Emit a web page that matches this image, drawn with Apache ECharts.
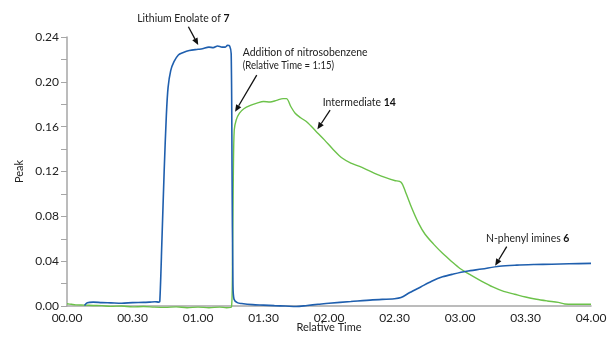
<!DOCTYPE html>
<html>
<head>
<meta charset="utf-8">
<script src="https://cdn.jsdelivr.net/npm/echarts@6/dist/echarts.min.js"></script>
<style>
  html, body { margin: 0; padding: 0; background: #fff; }
  #chart { width: 607px; height: 337px; }
</style>
</head>
<body>
<div id="chart"></div>
<script>
// Relative time in minutes, peak intensity
const enolateTime = [8, 9.3, 12, 16, 20, 25, 30, 35, 38, 40.3, 42, 42.5, 43.5, 44.5, 45.5, 46.3, 47.5, 49, 51, 53, 56, 60, 62, 65, 67, 69, 71, 72.5, 73.5, 74.5, 75.2, 75.6, 76, 76.5, 78, 80, 85, 90, 95, 100, 105, 110, 115, 120, 130, 140, 150, 153, 157, 162, 167, 172, 177, 183, 190, 198, 206, 214, 222, 230, 240];
const enolatePeak = [0.0005, 0.003, 0.0035, 0.003, 0.0028, 0.0025, 0.003, 0.0032, 0.0035, 0.0038, 0.0035, 0.004, 0.06, 0.12, 0.17, 0.195, 0.21, 0.218, 0.224, 0.226, 0.228, 0.229, 0.2295, 0.231, 0.2305, 0.232, 0.231, 0.231, 0.2325, 0.232, 0.225, 0.12, 0.02, 0.006, 0.003, 0.0022, 0.0012, 0.0008, 0.0003, 0, -0.0005, 0.0005, 0.0015, 0.0025, 0.004, 0.0055, 0.0065, 0.0075, 0.012, 0.017, 0.022, 0.026, 0.0285, 0.031, 0.033, 0.0355, 0.0365, 0.037, 0.0373, 0.0377, 0.038];

const intermTime = [0, 2, 4, 8, 12, 16, 20, 25, 30, 35, 40, 45, 50, 55, 60, 65, 70, 73, 75.3, 75.8, 76.2, 76.6, 77.5, 79, 81, 84, 87, 90, 93, 96, 99, 100.5, 102.5, 104.5, 107, 110, 114, 118, 122, 126, 130, 134, 138, 142, 146, 150, 153, 155, 158, 161, 164, 168, 172, 176, 180, 185, 190, 195, 200, 205, 210, 215, 220, 225, 228, 232, 240];
const intermPeak = [0.002, 0.0015, 0.001, 0.0008, 0.0005, 0.0003, -0.0003, 0, -0.0008, -0.0005, -0.001, -0.0012, -0.0008, -0.0015, -0.001, -0.0015, -0.001, -0.0015, -0.001, 0.04, 0.12, 0.157, 0.166, 0.172, 0.176, 0.179, 0.181, 0.1825, 0.182, 0.1835, 0.185, 0.185, 0.178, 0.172, 0.168, 0.164, 0.156, 0.148, 0.1395, 0.132, 0.1275, 0.1245, 0.121, 0.1175, 0.1145, 0.112, 0.1105, 0.102, 0.087, 0.074, 0.064, 0.055, 0.047, 0.04, 0.0335, 0.0275, 0.022, 0.017, 0.013, 0.0105, 0.008, 0.006, 0.0045, 0.0032, 0.0018, 0.0015, 0.0015];

const yTicks = [0, 0.04, 0.08, 0.12, 0.16, 0.20, 0.24];
const xTickMinutes = [0, 30, 60, 90, 120, 150, 180, 210, 240];

// Annotation text anchors [time, peak] and arrows [from, to]
const notes = [
  { text: 'Lithium Enolate of {b|7}', at: [53.3, 0.2566], align: 'center' },
  { text: 'Addition of nitrosobenzene', at: [80.5, 0.2263], align: 'left' },
  { text: '{s|(Relative Time = 1:15)}', at: [80.5, 0.215], align: 'left' },
  { text: 'Intermediate {b|14}', at: [117.1, 0.1817], align: 'left' },
  { text: 'N-phenyl imines {b|6}', at: [191.9, 0.0604], align: 'left' }
];
const arrows = [
  [[55.6, 0.2491], [60.1, 0.2328]],
  [[86.9, 0.206], [77.0, 0.1733]],
  [[120.5, 0.1748], [114.7, 0.1576]],
  [[201.4, 0.0529], [196.1, 0.0359]]
];

const textFont = 'Lato, "Liberation Sans", sans-serif';

function pair(t, v) { return t.map((x, i) => [x, v[i]]); }
function fmtTime(m) {
  const h = Math.floor(m / 60), mm = Math.round(m % 60);
  return String(h).padStart(2, '0') + '.' + String(mm).padStart(2, '0');
}

const chart = echarts.init(document.getElementById('chart'), null, { renderer: 'canvas' });

chart.setOption({
  animation: false,
  backgroundColor: '#ffffff',
  grid: { left: 67, right: 16, top: 37, bottom: 31, containLabel: false, outerBoundsMode: 'none' },
  xAxis: {
    type: 'value', min: 0, max: 240, interval: 30,
    name: 'Relative Time', nameLocation: 'middle', nameGap: 16, nameMoveOverlap: false,
    nameTextStyle: { fontFamily: textFont, fontSize: 11, color: '#222', verticalAlign: 'top' },
    axisLine: { show: true, lineStyle: { color: '#a6a6a6', width: 1.5 } },
    axisTick: { show: false },
    splitLine: { show: false },
    axisLabel: { formatter: fmtTime, fontFamily: textFont, fontSize: 12, color: '#222', margin: 6 }
  },
  yAxis: {
    type: 'value', min: 0, max: 0.24, interval: 0.04,
    name: 'Peak', nameLocation: 'middle', nameGap: 42, nameMoveOverlap: false,
    nameTextStyle: { fontFamily: textFont, fontSize: 11, color: '#222' },
    axisLine: { show: true, lineStyle: { color: '#a6a6a6', width: 1.5 } },
    axisTick: { show: true, length: 6, lineStyle: { color: '#a6a6a6', width: 1 } },
    minorTick: { show: true, splitNumber: 2, length: 6, lineStyle: { color: '#a6a6a6', width: 1 } },
    splitLine: { show: false },
    axisLabel: { formatter: v => v.toFixed(2), fontFamily: textFont, fontSize: 12, color: '#222', margin: 8 }
  },
  series: [
    {
      name: 'Intermediate 14', type: 'line', data: pair(intermTime, intermPeak),
      showSymbol: false, smooth: 0.3, clip: false,
      lineStyle: { color: '#6cc24a', width: 1.4 }, z: 2
    },
    {
      name: 'Lithium Enolate / N-phenyl imines', type: 'line', data: pair(enolateTime, enolatePeak),
      showSymbol: false, smooth: 0.3, clip: false,
      lineStyle: { color: '#1f5fae', width: 1.6 }, z: 3
    }
  ]
});

// Annotations placed through the axes' own data-to-pixel conversion
function toPx(p) { return chart.convertToPixel({ gridIndex: 0 }, p); }

const graphics = [];
notes.forEach(n => {
  const p = toPx(n.at);
  graphics.push({
    type: 'text', x: p[0], y: p[1], scaleX: 0.87, z: 10, silent: true,
    style: {
      text: n.text, align: n.align, verticalAlign: 'middle',
      font: '12px ' + textFont, fill: '#222',
      rich: {
        b: { fontFamily: textFont, fontWeight: 'bold', fontSize: 12, fill: '#111' },
        s: { fontFamily: textFont, fontSize: 11, fill: '#222' }
      }
    }
  });
});
arrows.forEach(a => {
  const s = toPx(a[0]), e = toPx(a[1]);
  const dx = e[0] - s[0], dy = e[1] - s[1];
  const len = Math.hypot(dx, dy), ux = dx / len, uy = dy / len;
  const headLen = 7, headW = 3;
  const bx = e[0] - ux * headLen, by = e[1] - uy * headLen;
  graphics.push({
    type: 'line', z: 10, silent: true,
    shape: { x1: s[0], y1: s[1], x2: bx, y2: by },
    style: { stroke: '#111', lineWidth: 1.3 }
  });
  graphics.push({
    type: 'polygon', z: 10, silent: true,
    shape: { points: [[e[0], e[1]], [bx - uy * headW, by + ux * headW], [bx + uy * headW, by - ux * headW]] },
    style: { fill: '#111' }
  });
});
chart.setOption({ graphic: graphics });
</script>
</body>
</html>
